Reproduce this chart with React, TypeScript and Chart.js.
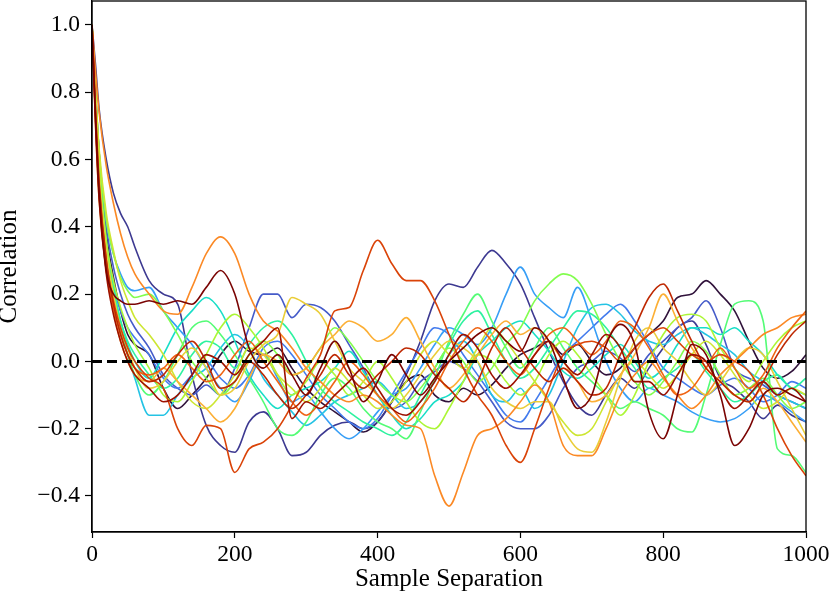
import React, { useRef, useEffect } from 'react';
import { Chart, registerables } from 'chart.js';

Chart.register(...registerables);

// sample separations (lags) shared by every run
const lags = [
  0, 5, 10, 20, 30, 40, 50, 60,
  80, 100, 120, 140, 160, 180, 200, 220, 240, 260,
  280, 300, 320, 340, 360, 380, 400, 420, 440, 460,
  480, 500, 520, 540, 560, 580, 600, 620, 640, 660,
  680, 700, 720, 740, 760, 780, 800, 820, 840, 860,
  880, 900, 920, 940, 960, 980, 1000,
];

// autocorrelation of each chain (same order as lags)
const run00 = [1, 0.8, 0.62, 0.38, 0.25, 0.15, 0.08, 0.05,
  0.02, -0.08, -0.14, -0.1, -0.05, 0.02, 0.06, 0.03, 0.02, 0.04,
  -0.02, -0.08, -0.12, -0.15, -0.18, -0.21, -0.18, -0.12, -0.06, -0.04,
  -0.1, -0.12, -0.08, -0.1, -0.07, -0.02, 0.02, 0.04, 0.06, 0.02,
  0.05, 0.0, -0.04, -0.02, 0.04, 0.08, 0.12, 0.19, 0.2, 0.24,
  0.2, 0.15, 0.06, -0.02, -0.05, -0.03, 0.02];
const run01 = [1, 0.88, 0.75, 0.6, 0.5, 0.44, 0.4, 0.34,
  0.24, 0.2, 0.17, -0.04, -0.19, -0.25, -0.27, -0.18, -0.15, -0.2,
  -0.28, -0.27, -0.22, -0.19, -0.18, -0.2, -0.18, -0.12, -0.04, 0.06,
  0.18, 0.23, 0.22, 0.28, 0.33, 0.29, 0.23, 0.13, 0.03, -0.06,
  -0.13, -0.16, -0.1, -0.05, -0.08, -0.02, 0.04, 0.1, 0.12, 0.05,
  -0.05, -0.08, -0.12, -0.17, -0.13, -0.16, -0.18];
const run02 = [1, 0.78, 0.6, 0.4, 0.28, 0.2, 0.14, 0.1,
  0.04, -0.04, -0.08, -0.1, -0.07, -0.1, -0.02, 0.1, 0.2, 0.2,
  0.13, 0.17, 0.16, 0.12, 0.05, -0.02, -0.1, -0.14, -0.12, -0.06,
  -0.03, 0.0, -0.02, -0.06, -0.12, -0.18, -0.2, -0.2, -0.16, -0.08,
  -0.02, 0.0, 0.03, 0.01, -0.03, 0.02, 0.06, 0.1, 0.13, 0.18,
  0.1, -0.02, -0.05, -0.07, -0.1, -0.12, -0.14];
const run03 = [1, 0.76, 0.56, 0.34, 0.22, 0.15, 0.1, 0.07,
  0.02, -0.05, -0.08, -0.04, 0.0, -0.05, -0.08, -0.04, 0.04, 0.06,
  0.02, -0.04, -0.1, -0.14, -0.18, -0.2, -0.17, -0.1, -0.03, 0.04,
  0.1, 0.08, 0.02, -0.04, -0.1, -0.16, -0.18, -0.12, -0.05, 0.02,
  0.06, 0.1, 0.14, 0.17, 0.12, 0.05, -0.02, -0.05, -0.08, -0.1,
  -0.07, -0.05, -0.08, -0.12, -0.1, -0.06, -0.08];
const run04 = [1, 0.8, 0.62, 0.42, 0.32, 0.26, 0.22, 0.21,
  0.22, 0.15, 0.1, 0.05, -0.02, -0.08, -0.12, -0.06, 0.02, -0.05,
  -0.12, -0.1, -0.15, -0.2, -0.23, -0.2, -0.15, -0.1, -0.08, -0.02,
  0.05, 0.1, 0.08, 0.05, 0.1, 0.2, 0.28, 0.2, 0.16, 0.13,
  0.22, 0.12, 0.0, -0.08, -0.12, -0.08, -0.1, -0.12, -0.15, -0.17,
  -0.18, -0.17, -0.14, -0.1, -0.12, -0.15, -0.18];
const run05 = [1, 0.75, 0.55, 0.32, 0.2, 0.1, 0.02, -0.05,
  -0.16, -0.16, -0.1, -0.05, -0.02, 0.04, 0.08, 0.04, -0.05, -0.1,
  -0.15, -0.19, -0.16, -0.12, -0.1, -0.08, -0.06, -0.1, -0.14, -0.12,
  -0.06, 0.02, 0.06, 0.0, -0.1, -0.12, -0.08, -0.14, -0.1, 0.0,
  0.1, 0.16, 0.17, 0.14, 0.09, 0.06, 0.05, 0.08, 0.1, 0.08,
  0.05, 0.02, -0.03, -0.06, -0.1, -0.12, -0.14];
const run06 = [1, 0.78, 0.58, 0.36, 0.22, 0.12, 0.05, 0.0,
  -0.05, 0.02, 0.1, 0.15, 0.19, 0.15, 0.06, -0.04, -0.1, -0.14,
  -0.1, -0.08, -0.06, -0.02, 0.03, -0.03, -0.1, -0.16, -0.2, -0.17,
  -0.12, -0.1, -0.06, 0.02, 0.06, 0.1, 0.12, 0.08, 0.03, -0.03,
  -0.05, -0.02, 0.02, 0.05, 0.0, -0.05, -0.02, 0.05, 0.1, 0.1,
  0.08, 0.1, 0.06, 0.02, -0.04, -0.08, -0.1];
const run07 = [1, 0.77, 0.57, 0.35, 0.22, 0.12, 0.06, 0.02,
  -0.04, -0.08, -0.05, 0.02, 0.06, 0.04, -0.02, 0.05, 0.1, 0.12,
  0.08, 0.0, -0.08, -0.12, -0.15, -0.18, -0.2, -0.22, -0.18, -0.1,
  -0.02, 0.05, 0.12, 0.15, 0.08, 0.0, -0.05, -0.02, 0.04, 0.1,
  0.15, 0.14, 0.1, 0.04, -0.02, -0.08, -0.05, -0.02, 0.02, -0.03,
  -0.08, -0.12, -0.1, -0.06, -0.04, -0.08, -0.05];
const run08 = [1, 0.76, 0.56, 0.33, 0.2, 0.1, 0.02, -0.04,
  -0.1, -0.06, 0.02, 0.1, 0.12, 0.08, 0.02, -0.05, -0.12, -0.2,
  -0.22, -0.18, -0.1, -0.05, -0.08, -0.14, -0.18, -0.2, -0.23, -0.15,
  -0.05, 0.06, 0.14, 0.2, 0.12, 0.04, -0.02, 0.04, 0.1, 0.04,
  -0.02, -0.06, -0.1, -0.14, -0.12, -0.14, -0.16, -0.2, -0.21, -0.1,
  0.05, 0.17, 0.18, 0.12, -0.26, -0.28, -0.33];
const run09 = [1, 0.8, 0.62, 0.42, 0.32, 0.25, 0.21, 0.19,
  0.2, 0.15, 0.08, 0.0, -0.05, -0.1, -0.06, 0.02, 0.06, 0.02,
  -0.04, -0.02, 0.04, 0.1, 0.06, 0.0, -0.06, -0.1, -0.12, -0.08,
  -0.02, 0.04, 0.0, -0.06, -0.02, 0.05, 0.1, 0.18, 0.23, 0.26,
  0.24, 0.17, 0.08, 0.0, -0.06, -0.1, -0.06, 0.0, 0.06, 0.03,
  -0.04, -0.1, -0.08, -0.05, -0.1, -0.14, -0.12];
const run10 = [1, 0.78, 0.58, 0.36, 0.24, 0.16, 0.1, 0.05,
  -0.02, -0.1, -0.12, -0.06, 0.02, 0.1, 0.14, 0.1, 0.04, -0.04,
  -0.1, -0.06, 0.0, -0.04, -0.1, -0.06, 0.0, -0.05, -0.12, -0.18,
  -0.2, -0.14, -0.06, 0.02, 0.0, -0.06, -0.1, -0.06, 0.02, 0.06,
  0.02, -0.04, -0.1, -0.16, -0.1, 0.0, 0.08, 0.13, 0.14, 0.12,
  0.04, -0.02, -0.06, 0.0, 0.06, 0.1, 0.12];
const run11 = [1, 0.8, 0.63, 0.44, 0.33, 0.24, 0.18, 0.13,
  0.08, 0.02, -0.06, -0.12, -0.14, -0.1, -0.04, 0.04, 0.02, -0.04,
  -0.08, -0.12, -0.08, -0.02, -0.06, -0.1, -0.14, -0.12, -0.06, 0.02,
  0.06, 0.02, -0.02, 0.04, 0.1, 0.06, 0.0, -0.06, -0.12, -0.18,
  -0.22, -0.2, -0.12, -0.04, 0.0, -0.04, -0.08, -0.04, 0.02, 0.06,
  0.02, -0.04, -0.1, -0.14, -0.12, -0.08, -0.1];
const run12 = [1, 0.76, 0.55, 0.33, 0.2, 0.1, 0.04, -0.02,
  -0.08, -0.06, 0.0, 0.04, -0.02, -0.1, -0.08, 0.0, 0.05, 0.08,
  0.19, 0.17, 0.14, 0.06, -0.02, -0.06, -0.1, -0.14, -0.1, -0.04,
  0.02, 0.06, 0.04, 0.0, -0.08, -0.12, -0.14, -0.12, -0.12, -0.2,
  -0.26, -0.27, -0.18, -0.05, 0.06, 0.1, 0.04, 0.0, -0.06, -0.1,
  -0.06, 0.0, 0.04, 0.02, -0.06, -0.14, -0.22];
const run13 = [1, 0.7, 0.48, 0.27, 0.15, 0.06, 0.0, -0.04,
  -0.06, -0.02, -0.06, -0.1, -0.14, -0.18, -0.14, -0.05, 0.02, 0.0,
  -0.04, -0.02, 0.04, 0.08, 0.12, 0.1, 0.06, 0.08, 0.13, 0.06,
  -0.02, -0.08, -0.04, 0.02, 0.08, 0.12, 0.08, 0.1, 0.06, 0.0,
  -0.06, -0.12, -0.1, -0.04, 0.02, 0.1, 0.2, 0.12, 0.04, -0.02,
  -0.06, -0.1, -0.12, -0.08, -0.12, -0.18, -0.24];
const run14 = [1, 0.86, 0.74, 0.58, 0.47, 0.38, 0.31, 0.26,
  0.2, 0.15, 0.14, 0.22, 0.32, 0.37, 0.32, 0.2, 0.12, 0.09,
  0.04, -0.02, -0.06, -0.1, -0.12, -0.1, -0.12, -0.16, -0.19, -0.2,
  -0.34, -0.43, -0.33, -0.22, -0.2, -0.17, -0.12, -0.07, -0.12, -0.25,
  -0.28, -0.28, -0.2, -0.1, -0.04, 0.0, -0.05, -0.1, -0.14, -0.1,
  -0.04, 0.0, 0.04, 0.08, 0.1, 0.13, 0.14];
const run15 = [1, 0.72, 0.5, 0.28, 0.16, 0.08, 0.02, -0.02,
  -0.04, -0.02, 0.02, -0.02, -0.06, -0.04, 0.02, 0.06, 0.0, -0.06,
  -0.12, -0.16, -0.12, -0.06, 0.0, -0.04, -0.1, -0.14, -0.18, -0.14,
  -0.08, 0.0, 0.06, 0.1, 0.06, 0.0, -0.04, 0.02, 0.08, 0.1,
  0.06, 0.02, 0.06, 0.12, 0.1, 0.04, -0.04, -0.1, -0.08, -0.02,
  0.04, -0.02, -0.08, -0.04, 0.04, 0.1, 0.15];
const run16 = [1, 0.74, 0.52, 0.3, 0.18, 0.1, 0.04, 0.0,
  -0.05, -0.08, -0.2, -0.25, -0.19, -0.2, -0.33, -0.26, -0.24, -0.2,
  -0.13, -0.05, 0.02, 0.15, 0.16, 0.27, 0.36, 0.29, 0.24, 0.24,
  0.18, 0.08, -0.02, -0.1, -0.16, -0.25, -0.3, -0.2, -0.08, 0.02,
  0.05, 0.06, 0.04, 0.0, 0.04, 0.08, 0.1, 0.06, 0.02, 0.0,
  0.02, 0.0, -0.03, -0.1, -0.2, -0.28, -0.34];
const run17 = [1, 0.74, 0.53, 0.3, 0.17, 0.08, 0.02, -0.02,
  -0.06, -0.04, 0.02, 0.06, 0.0, -0.08, -0.06, 0.0, -0.04, -0.1,
  -0.14, -0.1, -0.04, 0.02, -0.04, -0.08, -0.04, 0.0, 0.04, 0.02,
  -0.04, -0.08, -0.12, -0.06, 0.04, 0.1, 0.04, -0.02, -0.06, -0.02,
  -0.06, -0.1, -0.08, 0.02, 0.1, 0.19, 0.23, 0.15, 0.06, -0.02,
  -0.06, -0.1, -0.12, -0.06, 0.02, 0.08, 0.12];
const run18 = [1, 0.7, 0.48, 0.26, 0.14, 0.06, 0.0, -0.04,
  -0.08, -0.12, -0.1, -0.04, 0.02, 0.0, -0.04, 0.02, 0.06, 0.1,
  -0.17, -0.12, -0.14, -0.1, -0.06, -0.02, -0.08, -0.14, -0.16, -0.12,
  -0.06, 0.02, 0.08, 0.04, -0.04, -0.08, -0.04, 0.02, 0.06, 0.0,
  -0.04, 0.02, 0.08, 0.04, -0.06, -0.06, -0.1, -0.04, 0.02, 0.0,
  -0.08, -0.14, -0.1, -0.06, -0.1, -0.08, -0.12];
const run19 = [1, 0.72, 0.5, 0.27, 0.2, 0.18, 0.17, 0.17,
  0.18, 0.17, 0.18, 0.17, 0.22, 0.27, 0.2, 0.04, -0.02, 0.02,
  -0.04, -0.1, -0.02, 0.06, -0.02, -0.12, -0.06, 0.02, -0.04, -0.1,
  -0.05, 0.0, 0.04, 0.08, 0.1, 0.06, 0.03, 0.1, 0.06, -0.05,
  -0.14, -0.1, 0.05, 0.11, 0.05, -0.15, -0.23, -0.1, 0.05, 0.02,
  -0.1, -0.25, -0.2, -0.1, -0.08, -0.1, -0.12];

const runs = [run00, run01, run02, run03, run04, run05, run06, run07, run08, run09,
  run10, run11, run12, run13, run14, run15, run16, run17, run18, run19];

const xTicks = [0, 200, 400, 600, 800, 1000];
const yTicks = [-0.4, -0.2, 0, 0.2, 0.4, 0.6, 0.8, 1.0];

// turbo colormap anchors, dark purple -> dark red
const turboStops = [
  [48, 18, 59], [64, 64, 161], [71, 104, 219], [63, 140, 253], [40, 188, 235],
  [23, 221, 201], [49, 245, 155], [97, 254, 105], [154, 252, 59], [196, 237, 48],
  [232, 209, 56], [253, 173, 53], [250, 128, 33], [232, 84, 13], [203, 49, 3],
  [163, 20, 1], [122, 4, 3],
];

function turbo(t: number) {
  const p = t * (turboStops.length - 1);
  const i = Math.min(Math.floor(p), turboStops.length - 2);
  const f = p - i;
  const a = turboStops[i];
  const b = turboStops[i + 1];
  const c = a.map((v, k) => Math.round(v + (b[k] - v) * f));
  return `rgb(${c[0]}, ${c[1]}, ${c[2]})`;
}

const serif = "'Liberation Serif', 'Times New Roman', serif";

const framePlugin = {
  id: 'frame',
  afterDraw(chart: Chart) {
    const { ctx, chartArea: a } = chart;
    ctx.save();
    ctx.strokeStyle = '#000';
    ctx.lineWidth = 1.3;
    ctx.strokeRect(a.left, a.top, a.right - a.left, a.bottom - a.top);
    ctx.restore();
  },
};

function fmt(v: number) {
  const s = Math.abs(v).toFixed(1);
  return v < -1e-9 ? '\u2212' + s : s;
}

export default function App() {
  const canvasRef = useRef<HTMLCanvasElement | null>(null);
  const chartRef = useRef<Chart | null>(null);

  useEffect(() => {
    if (!canvasRef.current) return;

    const datasets: any[] = runs.map((r, i) => ({
      data: lags.map((x, k) => ({ x, y: r[k] })),
      borderColor: turbo(i / (runs.length - 1)),
      borderWidth: 1.6,
      pointRadius: 0,
      cubicInterpolationMode: 'monotone',
      order: runs.length - i,
    }));
    datasets.push({
      data: [{ x: 0, y: 0 }, { x: 1000, y: 0 }],
      borderColor: '#000',
      borderWidth: 3,
      borderDash: [10, 5],
      pointRadius: 0,
      order: 0,
    });

    chartRef.current = new Chart(canvasRef.current, {
      type: 'line',
      data: { datasets },
      plugins: [framePlugin],
      options: {
        responsive: false,
        animation: false,
        layout: { padding: { top: 1, right: 24, left: 0, bottom: 0 } },
        plugins: { legend: { display: false }, tooltip: { enabled: false } },
        scales: {
          x: {
            type: 'linear',
            min: 0,
            max: 1000,
            afterBuildTicks: (s: any) => { s.ticks = xTicks.map((v) => ({ value: v })); },
            afterFit: (s: any) => { s.height = 65; s.paddingLeft = 0; s.paddingRight = 0; },
            grid: { drawOnChartArea: false, color: '#000', tickLength: 6, tickWidth: 1.2 },
            border: { color: '#000', width: 1.3 },
            ticks: {
              color: '#000', autoSkip: false, maxRotation: 0, padding: 3,
              font: { family: serif, size: 23.5 }, callback: (v: any) => String(v),
            },
            title: {
              display: true, text: 'Sample Separation', color: '#000',
              font: { family: serif, size: 25, lineHeight: 1.2 }, padding: { top: 0, bottom: 3 },
            },
          },
          y: {
            type: 'linear',
            min: -0.507,
            max: 1.071,
            afterBuildTicks: (s: any) => { s.ticks = yTicks.map((v) => ({ value: v })); },
            afterFit: (s: any) => { s.width = 92; s.paddingTop = 0; s.paddingBottom = 0; },
            grid: { drawOnChartArea: false, color: '#000', tickLength: 7, tickWidth: 1.2 },
            border: { color: '#000', width: 1.3 },
            ticks: {
              color: '#000', padding: 5, font: { family: serif, size: 23.5 },
              callback: (v: any) => fmt(Number(v)),
            },
            title: {
              display: true, text: 'Correlation', color: '#000',
              font: { family: serif, size: 25, lineHeight: 0.75 }, padding: 0,
            },
          },
        },
      },
    });

    return () => {
      chartRef.current?.destroy();
      chartRef.current = null;
    };
  }, []);

  return (
    <div style={{ position: 'absolute', left: 0, top: 0, width: 830, height: 597, background: '#fff' }}>
      <canvas ref={canvasRef} width={830} height={597} style={{ width: 830, height: 597 }} />
    </div>
  );
}
